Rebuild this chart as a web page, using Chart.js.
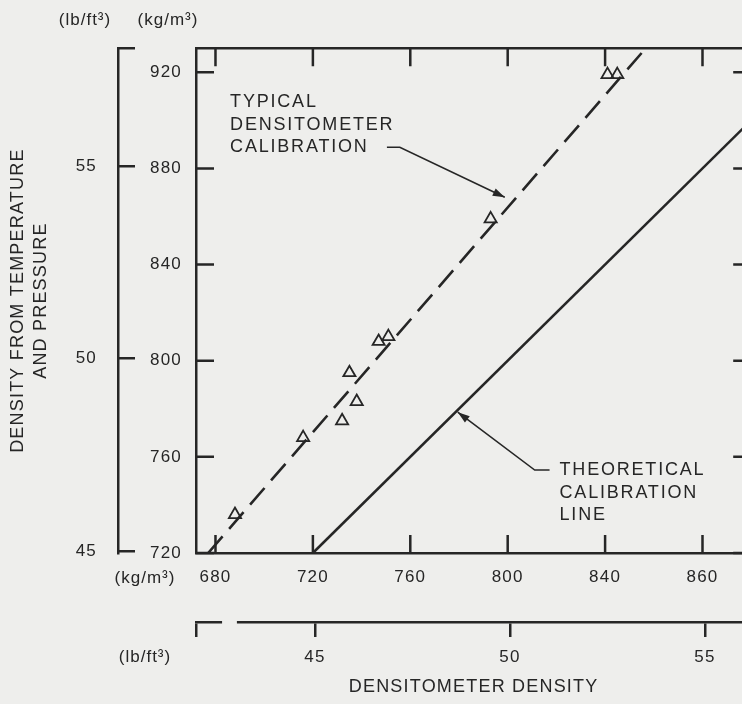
<!DOCTYPE html>
<html>
<head>
<meta charset="utf-8">
<script src="https://cdn.jsdelivr.net/npm/chart.js@4.4.0/dist/chart.umd.min.js"></script>
<style>
    html, body { margin: 0; padding: 0; background: #eeeeec; overflow: hidden; width: 742px; height: 704px; }
    canvas { display: block; }
</style>
</head>
<body>
<canvas id="densityChart" width="760" height="704"></canvas>
<script>
// kg/m3 in one lb/ft3
const LB = 16.0185;

// Axis ranges (kg/m3)
const xMin = 672, xMax = 900;
const yMin = 720, yMax = 930;

// Tick values and labels
const xTicks = [680, 720, 760, 800, 840, 880];
const xTickLabels = ['680', '720', '760', '800', '840', '860'];
const yTicks = [720, 760, 800, 840, 880, 920];
const yTickLabels = ['720', '760', '800', '840', '880', '920'];
const lbTicks = [45, 50, 55];
const lbTickLabels = ['45', '50', '55'];

// Measured points: densitometer density vs density from T and P
const measuredX = [688, 716, 732, 738, 735, 747, 751, 793, 841, 845];
const measuredY = [736, 768, 775, 783, 795, 808, 810, 859, 919, 919];

// Calibration lines
const typicalX = [677, 855];
const typicalY = [720, 928];
const theoreticalX = [720, 900];
const theoreticalY = [720, 900];

// Callouts (data coordinates, last point is the arrow tip)
const typicalCallout = [[750.4, 888.8], [755.7, 888.8], [798.8, 868.0]];
const typicalText = ['TYPICAL', 'DENSITOMETER', 'CALIBRATION'];
const typicalTextAt = [686, 907.5];
const theoreticalCallout = [[817.2, 754.5], [811.1, 754.5], [779.5, 778.6]];
const theoreticalText = ['THEORETICAL', 'CALIBRATION', 'LINE'];
const theoreticalTextAt = [821.3, 754.5];

const INK = '#262626';
const BG = '#eeeeec';
const FONT = '"Liberation Sans", Arial, sans-serif';
const TICK = 18;

function toPoints(xs, ys) {
    return xs.map((v, i) => ({ x: v, y: ys[i] }));
}

function drawArrow(ctx, pts) {
    ctx.beginPath();
    ctx.moveTo(pts[0][0], pts[0][1]);
    for (let i = 1; i < pts.length; i++) ctx.lineTo(pts[i][0], pts[i][1]);
    ctx.stroke();
    const [ax, ay] = pts[pts.length - 2];
    const [bx, by] = pts[pts.length - 1];
    const ang = Math.atan2(by - ay, bx - ax);
    ctx.beginPath();
    ctx.moveTo(bx, by);
    ctx.lineTo(bx - 12 * Math.cos(ang) + 4 * Math.sin(ang), by - 12 * Math.sin(ang) - 4 * Math.cos(ang));
    ctx.lineTo(bx - 12 * Math.cos(ang) - 4 * Math.sin(ang), by - 12 * Math.sin(ang) + 4 * Math.cos(ang));
    ctx.closePath();
    ctx.fill();
}

const framePlugin = {
    id: 'frame',
    beforeDraw(chart) {
        const ctx = chart.ctx;
        ctx.save();
        ctx.fillStyle = BG;
        ctx.fillRect(0, 0, chart.width, chart.height);
        ctx.restore();
        ctx.letterSpacing = '1.2px';
    },
    afterDraw(chart) {
        const { ctx, chartArea: a, scales } = chart;
        const x = scales.x, y = scales.y, x2 = scales.x2;
        ctx.save();
        ctx.strokeStyle = INK;
        ctx.fillStyle = INK;
        ctx.lineWidth = 2.5;

        // top and right frame, inward ticks
        ctx.beginPath();
        ctx.moveTo(a.left, a.top);
        ctx.lineTo(a.right, a.top);
        ctx.lineTo(a.right, a.bottom);
        xTicks.forEach(v => {
            const px = x.getPixelForValue(v);
            ctx.moveTo(px, a.top); ctx.lineTo(px, a.top + TICK);
            ctx.moveTo(px, a.bottom); ctx.lineTo(px, a.bottom - TICK);
        });
        yTicks.forEach(v => {
            const py = y.getPixelForValue(v);
            ctx.moveTo(a.left, py); ctx.lineTo(a.left + TICK, py);
            ctx.moveTo(a.right, py); ctx.lineTo(a.right - TICK, py);
        });
        ctx.stroke();

        // break in the lb/ft3 axis
        ctx.fillStyle = BG;
        const g1 = x2.getPixelForValue(42.62), g2 = x2.getPixelForValue(43.0);
        ctx.fillRect(g1, x2.top - 3, g2 - g1, 6);
        ctx.fillStyle = INK;

        // callout arrows
        ctx.lineWidth = 1.6;
        const px = p => [x.getPixelForValue(p[0]), y.getPixelForValue(p[1])];
        drawArrow(ctx, typicalCallout.map(px));
        drawArrow(ctx, theoreticalCallout.map(px));

        // texts
        ctx.font = '18px ' + FONT;
        ctx.textBaseline = 'middle';
        ctx.textAlign = 'left';
        ctx.letterSpacing = '1.8px';
        let [tx, ty] = px(typicalTextAt);
        typicalText.forEach((t, i) => ctx.fillText(t, tx, ty + i * 22.5));
        [tx, ty] = px(theoreticalTextAt);
        theoreticalText.forEach((t, i) => ctx.fillText(t, tx, ty + i * 22.5));

        ctx.font = '17px ' + FONT;
        ctx.letterSpacing = '1px';
        ctx.textAlign = 'center';
        ctx.fillText('(kg/m³)', a.left - 51, a.bottom + 25);
        ctx.fillText('(lb/ft³)', a.left - 51, x2.top + 35);
        ctx.fillText('(lb/ft³)', 85, 20);
        ctx.fillText('(kg/m³)', 168, 20);
        ctx.restore();
    }
};

new Chart(document.getElementById('densityChart'), {
    type: 'scatter',
    data: {
        datasets: [
            {
                label: 'Measured',
                data: toPoints(measuredX, measuredY),
                showLine: false,
                pointStyle: 'triangle',
                pointRadius: 7,
                pointBorderWidth: 1.8,
                borderColor: INK,
                backgroundColor: 'rgba(0,0,0,0)'
            },
            {
                label: 'Typical densitometer calibration',
                data: toPoints(typicalX, typicalY),
                showLine: true,
                borderColor: INK,
                borderWidth: 2.6,
                borderDash: [22, 10],
                pointRadius: 0
            },
            {
                label: 'Theoretical calibration line',
                data: toPoints(theoreticalX, theoreticalY),
                showLine: true,
                borderColor: INK,
                borderWidth: 2.6,
                pointRadius: 0
            }
        ]
    },
    options: {
        responsive: false,
        animation: false,
        layout: { padding: { top: 48, right: 8, left: 0, bottom: 0 } },
        plugins: { legend: { display: false }, tooltip: { enabled: false } },
        scales: {
            x: {
                type: 'linear', position: 'bottom', weight: 0, min: xMin, max: xMax,
                afterBuildTicks: s => { s.ticks = xTicks.map(v => ({ value: v })); },
                afterFit: s => { s.height = 69; },
                grid: { drawOnChartArea: false, drawTicks: false },
                border: { display: true, color: INK, width: 2.5 },
                ticks: {
                    autoSkip: false, maxRotation: 0, padding: 14, color: INK,
                    font: { family: FONT, size: 17 },
                    callback: (v, i) => xTickLabels[i]
                }
            },
            x2: {
                type: 'linear', position: 'bottom', weight: 1, min: xMin / LB, max: xMax / LB,
                afterBuildTicks: s => { s.ticks = [xMin / LB, ...lbTicks].map(v => ({ value: v })); },
                afterFit: s => { s.height = 82; },
                grid: { drawOnChartArea: false, drawTicks: true, tickLength: 15, color: INK, lineWidth: 2.5 },
                border: { display: true, color: INK, width: 2.5 },
                ticks: {
                    autoSkip: false, maxRotation: 0, padding: 10, color: INK,
                    font: { family: FONT, size: 17 },
                    callback: (v, i) => i === 0 ? '' : lbTickLabels[i - 1]
                },
                title: {
                    display: true, text: 'DENSITOMETER DENSITY', color: INK,
                    font: { family: FONT, size: 18 }, padding: { top: 0, bottom: 6 }
                }
            },
            y: {
                type: 'linear', position: 'left', weight: 0, min: yMin, max: yMax,
                afterBuildTicks: s => { s.ticks = yTicks.map(v => ({ value: v })); },
                afterFit: s => { s.width = 78; },
                grid: { drawOnChartArea: false, drawTicks: false },
                border: { display: true, color: INK, width: 2.5 },
                ticks: {
                    autoSkip: false, padding: 14, color: INK,
                    font: { family: FONT, size: 17 },
                    callback: (v, i) => yTickLabels[i]
                }
            },
            y2: {
                type: 'linear', position: 'left', weight: 1, min: yMin / LB, max: yMax / LB,
                afterBuildTicks: s => { s.ticks = [...lbTicks, yMax / LB].map(v => ({ value: v })); },
                afterFit: s => { s.width = 118; },
                grid: { drawOnChartArea: false, drawTicks: true, tickLength: -17, color: INK, lineWidth: 2.5 },
                border: { display: true, color: INK, width: 2.5 },
                ticks: {
                    autoSkip: false, padding: 38, color: INK,
                    font: { family: FONT, size: 17 },
                    callback: (v, i) => i < lbTickLabels.length ? lbTickLabels[i] : ''
                },
                title: {
                    display: true, text: ['DENSITY FROM TEMPERATURE', 'AND PRESSURE'], color: INK,
                    font: { family: FONT, size: 18, lineHeight: 1.25 }, padding: { top: 7, bottom: 0 }
                }
            }
        }
    },
    plugins: [framePlugin]
});
</script>
</body>
</html>
